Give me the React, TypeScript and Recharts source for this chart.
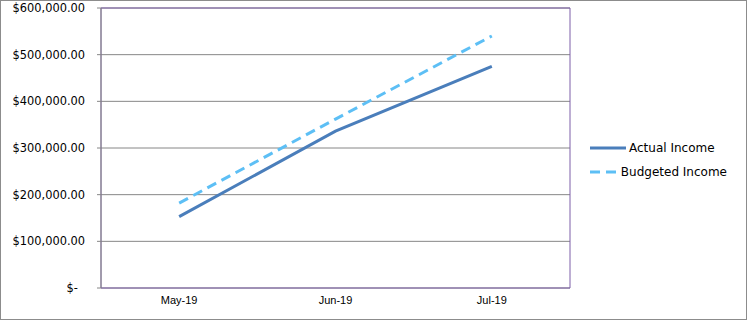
import React from "react"
import {
  LineChart,
  Line,
  XAxis,
  YAxis,
  CartesianGrid,
  Legend,
  ReferenceArea,
} from "recharts"

// months on the category axis
const months = ["May-19", "Jun-19", "Jul-19"]
// income values
const actualIncome = [153000, 336000, 475000]
const budgetedIncome = [182000, 362000, 540000]

// y axis: labelled ticks every 100k, small ticks every 20k
const majorTicks = [0, 100000, 200000, 300000, 400000, 500000, 600000]
const minorTicks = [
  0, 20000, 40000, 60000, 80000, 100000, 120000, 140000, 160000, 180000, 200000,
  220000, 240000, 260000, 280000, 300000, 320000, 340000, 360000, 380000, 400000,
  420000, 440000, 460000, 480000, 500000, 520000, 540000, 560000, 580000, 600000,
]
// category boundaries for the x tick marks
const bandEdges = [0, 1, 2, 3]

const ACTUAL = "#4a7ebb"
const BUDGET = "#5dbff5"

const data = months.map((m, i) => ({
  month: m,
  actual: actualIncome[i],
  budgeted: budgetedIncome[i],
}))

const fmtMoney = (v: number) =>
  v === 0
    ? "$-\u00a0\u00a0"
    : "$" + v.toLocaleString("en-US", { minimumFractionDigits: 2, maximumFractionDigits: 2 })

function LegendBox() {
  const items = [
    { name: "Actual Income", color: ACTUAL, dash: undefined },
    { name: "Budgeted Income", color: BUDGET, dash: "10 6" },
  ]
  return (
    <div style={{ paddingLeft: 20, fontFamily: "DejaVu Sans", fontSize: 12, color: "#000", whiteSpace: "nowrap" }}>
      {items.map((it) => (
        <div key={it.name} style={{ display: "flex", alignItems: "center", height: 24 }}>
          <svg width={37} height={10}>
            <line x1={0} y1={5} x2={36} y2={5} stroke={it.color} strokeWidth={3} strokeDasharray={it.dash} />
          </svg>
          <span style={{ marginLeft: 2 }}>{it.name}</span>
        </div>
      ))}
    </div>
  )
}

export default function App() {
  return (
    <div style={{ position: "absolute", left: 0, top: 0, width: 747, height: 320 }}>
      <style>{"body{margin:0}"}</style>
      <div style={{ width: 745, height: 318, border: "1px solid #8c8c8c", background: "#fff" }}>
        <LineChart width={745} height={318} data={data} margin={{ top: 7, right: 19, bottom: 6, left: 0 }}>
          <ReferenceArea yAxisId="main" y1={0} y2={600000} fill="none" stroke="#7d5fa8" strokeWidth={1} ifOverflow="visible" />
          <CartesianGrid yAxisId="main" vertical={false} stroke="#868686" horizontalValues={majorTicks} />
          <XAxis
            xAxisId="edges"
            type="number"
            dataKey="edge"
            domain={[0, 3]}
            ticks={bandEdges}
            tickFormatter={() => ""}
            height={0}
            tickSize={4}
            stroke="#868686"
          />
          <XAxis
            xAxisId="cat"
            dataKey="month"
            scale="band"
            height={25}
            axisLine={false}
            tickLine={false}
            tickSize={0}
            tickMargin={8}
            tick={{ fontFamily: "Liberation Sans", fontSize: 11, fill: "#000" }}
          />
          <YAxis
            yAxisId="main"
            domain={[0, 600000]}
            ticks={majorTicks}
            tickFormatter={fmtMoney}
            width={100}
            tickSize={4}
            tickMargin={12}
            stroke="#868686"
            tick={{ fontFamily: "DejaVu Sans", fontSize: 11.4, fill: "#000" }}
          />
          <YAxis
            yAxisId="minor"
            domain={[0, 600000]}
            ticks={minorTicks}
            tickFormatter={() => ""}
            width={0}
            tickSize={4}
            axisLine={false}
            stroke="#868686"
          />
          <Legend layout="vertical" align="right" verticalAlign="middle" wrapperStyle={{ width: 157 }} content={() => <LegendBox />} />
          <Line
            xAxisId="cat"
            yAxisId="main"
            dataKey="actual"
            name="Actual Income"
            stroke={ACTUAL}
            strokeWidth={3}
            dot={false}
            isAnimationActive={false}
          />
          <Line
            xAxisId="cat"
            yAxisId="main"
            dataKey="budgeted"
            name="Budgeted Income"
            stroke={BUDGET}
            strokeWidth={3}
            strokeDasharray="10 6"
            dot={false}
            isAnimationActive={false}
          />
        </LineChart>
      </div>
    </div>
  )
}
